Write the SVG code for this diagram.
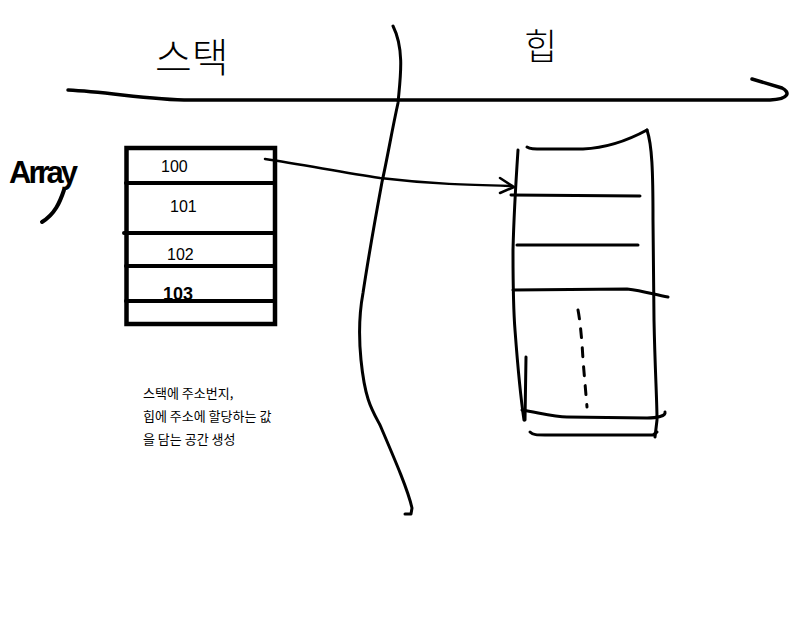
<svg xmlns="http://www.w3.org/2000/svg" width="807" height="628" viewBox="0 0 807 628">
<defs>
<style>
.ln{fill:none;stroke:#000;stroke-linecap:round;stroke-linejoin:round}
.hand{font-family:"Noto Sans CJK KR","Noto Sans",sans-serif;fill:#000}
.num{font-family:"Liberation Sans","DejaVu Sans",sans-serif;fill:#000}
.note{font-family:"Noto Sans CJK KR","Noto Sans",sans-serif;font-size:13px;fill:#000}
</style>
</defs>
<rect width="807" height="628" fill="#fff"/>
<g id="titles">
<text class="hand" x="155" y="72" font-size="40" font-weight="300">스택</text>
<text class="hand" x="524" y="60" font-size="36" font-weight="300">힙</text>
</g>
<g id="axis">
<path class="ln" stroke-width="3.5" d="M68,90 C110,92 150,100 190,100 L770,100 C790,99 790,92 782,88 L752,79"/>
<path class="ln" stroke-width="3" d="M393,26 C405,50 400,80 398,103 C392,130 387,160 382,182 C375,220 368,260 363,293 C358,320 359,340 361,360 C365,400 372,410 380,425 C395,460 408,490 412,508 L411,514 L405,514"/>
</g>
<g id="array-label">
<text class="num" x="9" y="183" font-size="31" font-weight="bold" letter-spacing="-3">Array</text>
<path class="ln" stroke-width="4" d="M64,190 C60,202 55,214 42,222"/>
</g>
<g id="stack">
<rect x="126.5" y="148" width="148.5" height="176" fill="none" stroke="#000" stroke-width="4.5"/>
<path class="ln" stroke-width="4" d="M126,183 H275 M124,233 H275 M126,266 H275 M126,301 H275"/>
<text class="num" x="161" y="172" font-size="16" font-weight="300">100</text>
<text class="num" x="170" y="212" font-size="16" font-weight="300">101</text>
<text class="num" x="167" y="260" font-size="16" font-weight="300">102</text>
<text class="num" x="163" y="300" font-size="18" font-weight="bold">103</text>
</g>
<g id="heap">
<path class="ln" stroke-width="3" d="M518,150 C516,180 514,210 513,250 C513,280 513,305 515,330 C518,370 521,400 524,420"/>
<path class="ln" stroke-width="3" d="M526,357 L525,420"/>
<path class="ln" stroke-width="3" d="M527,147 C530,149 533,149 545,149 L583,149 C605,148 625,142 647,130"/>
<path class="ln" stroke-width="3" d="M647,130 C652,145 653,170 653,220 L654,320 C655,370 657,400 657,420 L655,437"/>
<path class="ln" stroke-width="3" d="M511,195 L640,196 M517,245 L638,245 M513,290 L627,289 C645,291 655,295 668,297"/>
<path class="ln" stroke-width="3" d="M522,410 C540,413 555,417 567,417 L647,418 C657,418 666,416 665,412"/>
<path class="ln" stroke-width="3" d="M530,432 C533,435 537,435 545,435 L653,435 L657,432"/>
<path class="ln" stroke-width="3" stroke-dasharray="9,10" d="M578,310 C580,320 582,340 583,360 L587,407"/>
</g>
<g id="connectors">
<path class="ln" stroke-width="2.5" d="M265,159 C300,164 340,172 380,178 C430,184 470,185 512,186"/>
<path class="ln" stroke-width="2.5" d="M500,178 L514,187 L500,193"/>
</g>
<g id="note">
<text class="note" x="143" y="398">스택에 주소번지,</text>
<text class="note" x="143" y="421">힙에 주소에 할당하는 값</text>
<text class="note" x="143" y="444">을 담는 공간 생성</text>
</g>
</svg>
